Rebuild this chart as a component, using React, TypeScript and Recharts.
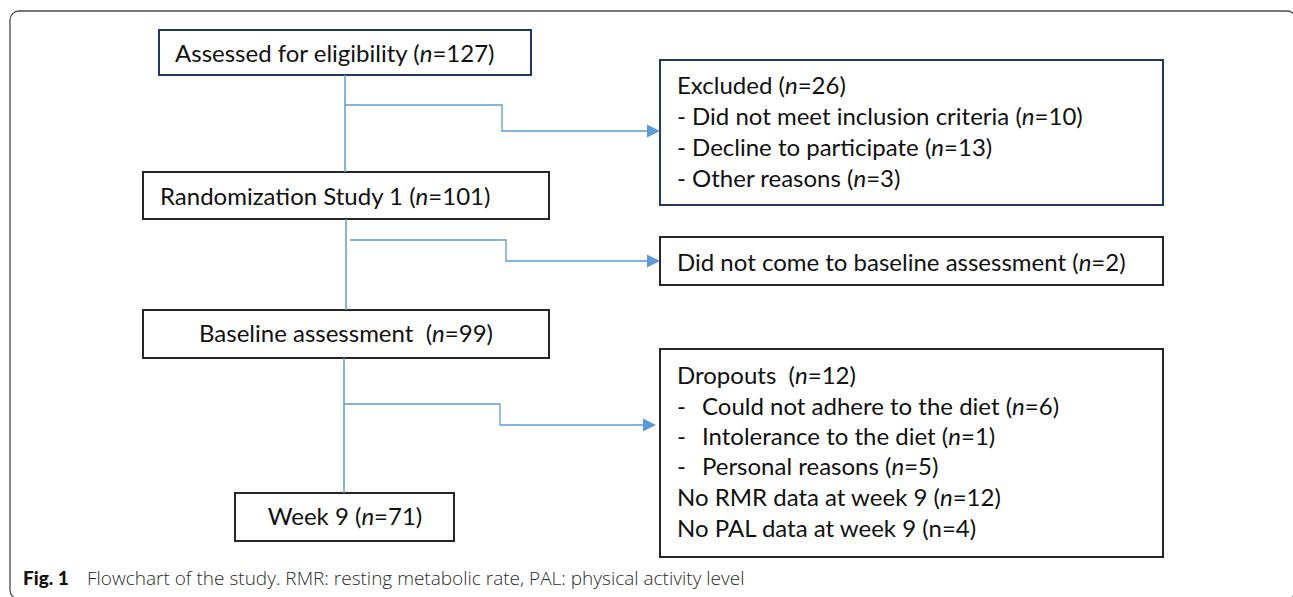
import React from 'react';
import { ComposedChart, XAxis, YAxis, ReferenceArea, Line, Scatter } from 'recharts';

// main flow (left column)
const stageNames = ['Assessed for eligibility', 'Randomization Study 1', 'Baseline assessment ', 'Week 9'];
const stageCounts = [127, 101, 99, 71];

// excluded before randomization
const excludedTotal = 26;
const excludedReasons = ['Did not meet inclusion criteria', 'Decline to participate', 'Other reasons'];
const excludedCounts = [10, 13, 3];

// lost before baseline
const noBaselineLabel = 'Did not come to baseline assessment';
const noBaselineCount = 2;

// lost during the 9 weeks
const dropoutTotal = 12;
const dropoutReasons = ['Could not adhere to the diet', 'Intolerance to the diet', 'Personal reasons'];
const dropoutCounts = [6, 1, 5];
const missingLabels = ['No RMR data at week 9', 'No PAL data at week 9'];
const missingCounts = [12, 4];

const figLabel = 'Fig. 1';
const caption = 'Flowchart of the study. RMR: resting metabolic rate, PAL: physical activity level';

const W = 1293;
const H = 597;
const NAVY = '#1f3864';
const INK = '#262626';
const BLUE = '#5b9bd5';
const FONT = 'Lato, "Noto Sans", sans-serif';
const CAP_FONT = '"Open Sans", Lato, sans-serif';

type Seg = { text: string; italic?: boolean };
type TextRow = { x: number; y: number; anchor: string; segs: Seg[]; kind?: string };

// "label (n=count)" with an italic n
const withN = (label: string, count: number, italic = true): Seg[] => [
  { text: `${label} (` },
  { text: 'n', italic },
  { text: `=${count})` },
];

// box geometry in drawing units
const stageBoxes = [
  { x1: 159, x2: 531, y1: 30, y2: 75, stroke: NAVY },
  { x1: 143, x2: 549, y1: 172, y2: 219, stroke: INK },
  { x1: 143, x2: 549, y1: 310, y2: 358, stroke: INK },
  { x1: 235, x2: 454, y1: 493, y2: 541, stroke: INK },
];
const sideBoxes = [
  { x1: 660, x2: 1163, y1: 60, y2: 205, stroke: NAVY },
  { x1: 660, x2: 1163, y1: 237, y2: 285, stroke: INK },
  { x1: 660, x2: 1163, y1: 349, y2: 557, stroke: INK },
];

const trunk = [
  [{ x: 345, y: 75 }, { x: 345, y: 172 }],
  [{ x: 346, y: 219 }, { x: 346, y: 310 }],
  [{ x: 344, y: 358 }, { x: 344, y: 493 }],
];
const branches = [
  [{ x: 345, y: 105 }, { x: 502, y: 105 }, { x: 502, y: 131 }, { x: 649, y: 131 }],
  [{ x: 350, y: 240 }, { x: 506, y: 240 }, { x: 506, y: 261 }, { x: 649, y: 261 }],
  [{ x: 344, y: 404 }, { x: 500, y: 404 }, { x: 500, y: 425 }, { x: 645, y: 425 }],
];
const arrowTips = [
  { x: 660, y: 131 },
  { x: 660, y: 261 },
  { x: 656, y: 425 },
];

const stageText = [
  { x: 175, y: 62, anchor: 'start' },
  { x: 160, y: 205, anchor: 'start' },
  { x: 346, y: 342, anchor: 'middle' },
  { x: 345, y: 525, anchor: 'middle' },
];
const excludedRowsY = [93.5, 124.5, 156, 186.5];
const dropoutRowsY = [383.5, 414.5, 444.5, 475, 506, 537];
const sideX = 677;
const indentX = 702;

const textRows: TextRow[] = [
  ...stageNames.map((name, i) => ({ ...stageText[i], segs: withN(name, stageCounts[i]) })),
  { x: sideX, y: excludedRowsY[0], anchor: 'start', segs: withN('Excluded', excludedTotal) },
  ...excludedReasons.map((r, i) => ({
    x: sideX, y: excludedRowsY[i + 1], anchor: 'start', segs: withN(`- ${r}`, excludedCounts[i]),
  })),
  { x: sideX, y: 271, anchor: 'start', segs: withN(noBaselineLabel, noBaselineCount) },
  { x: sideX, y: dropoutRowsY[0], anchor: 'start', segs: withN('Dropouts ', dropoutTotal) },
  ...dropoutReasons.map((r, i) => ({
    x: indentX, y: dropoutRowsY[i + 1], anchor: 'start', segs: withN(r, dropoutCounts[i]),
  })),
  ...dropoutReasons.map((_, i) => ({
    x: sideX, y: dropoutRowsY[i + 1], anchor: 'start', segs: [{ text: '-' }],
  })),
  ...missingLabels.map((m, i) => ({
    x: sideX, y: dropoutRowsY[i + 4], anchor: 'start', segs: withN(m, missingCounts[i], i === 0),
  })),
  { x: 23, y: 585, anchor: 'start', segs: [{ text: figLabel }], kind: 'fig' },
  { x: 87, y: 585, anchor: 'start', segs: [{ text: caption }], kind: 'caption' },
];

const TextMark = (props: any) => {
  const { cx, cy, payload } = props;
  const row = payload as TextRow;
  const isFig = row.kind === 'fig';
  const isCap = row.kind === 'caption';
  return (
    <text
      x={cx}
      y={cy}
      textAnchor={row.anchor}
      fontFamily={isCap ? CAP_FONT : FONT}
      fontSize={isFig ? 19 : isCap ? 19 : 24}
      fontWeight={isFig ? 900 : isCap ? 300 : 400}
      fill={isCap ? '#2b2b2b' : '#111'}
      style={{ whiteSpace: 'pre' }}
    >
      {row.segs.map((s, i) => (
        <tspan key={i} fontStyle={s.italic ? 'italic' : 'normal'}>{s.text}</tspan>
      ))}
    </text>
  );
};

const ArrowHead = (props: any) => {
  const { cx, cy } = props;
  return <path d={`M${cx},${cy} L${cx - 13},${cy - 6.5} L${cx - 13},${cy + 6.5} Z`} fill={BLUE} />;
};

export default function App() {
  return (
    <div style={{ position: 'absolute', left: 0, top: 0, width: W, height: H, background: '#fff' }}>
      <ComposedChart width={W} height={H} margin={{ top: 0, right: 0, bottom: 0, left: 0 }}>
        <XAxis type="number" dataKey="x" domain={[0, W]} hide allowDataOverflow />
        <YAxis type="number" dataKey="y" domain={[0, H]} reversed hide allowDataOverflow />
        <ReferenceArea
          x1={10} x2={1296} y1={11} y2={599}
          ifOverflow="visible" radius={9}
          fill="none" stroke="#4a4a4a" strokeWidth={1.3}
        />
        {trunk.map((seg, i) => (
          <Line key={`t${i}`} data={seg} dataKey="y" type="linear" stroke={BLUE} strokeWidth={1.5}
            dot={false} activeDot={false} isAnimationActive={false} />
        ))}
        {branches.map((seg, i) => (
          <Line key={`b${i}`} data={seg} dataKey="y" type="linear" stroke={BLUE} strokeWidth={1.3}
            dot={false} activeDot={false} isAnimationActive={false} />
        ))}
        <Scatter data={arrowTips} shape={ArrowHead} isAnimationActive={false} />
        {[...stageBoxes, ...sideBoxes].map((b, i) => (
          <ReferenceArea key={`r${i}`} x1={b.x1} x2={b.x2} y1={b.y1} y2={b.y2}
            fill="#fff" fillOpacity={0} stroke={b.stroke} strokeWidth={2} ifOverflow="visible" />
        ))}
        <Scatter data={textRows} shape={TextMark} isAnimationActive={false} />
      </ComposedChart>
    </div>
  );
}
